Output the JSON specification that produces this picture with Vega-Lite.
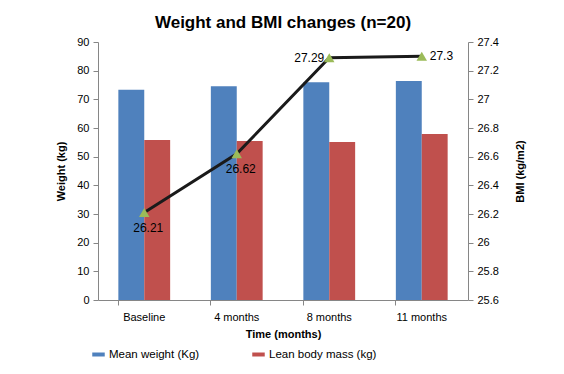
{
  "$schema": "https://vega.github.io/schema/vega-lite/v6.json",
  "width": 370,
  "height": 258,
  "autosize": "none",
  "padding": {"left": 98, "top": 42, "right": 96, "bottom": 74},
  "background": "white",
  "title": {"text": "Weight and BMI changes (n=20)", "fontSize": 17, "font": "Liberation Sans", "fontWeight": "bold", "color": "#000000", "anchor": "middle", "offset": 4},
  "config": {
    "font": "Liberation Sans",
    "view": {"stroke": null},
    "axis": {"labelFont": "Liberation Sans", "labelFontSize": 11, "labelColor": "#000000", "titleFont": "Liberation Sans", "titleFontSize": 11, "titleFontWeight": "bold", "titleColor": "#000000", "domainColor": "#868686", "tickColor": "#868686", "grid": false, "tickSize": 5}
  },
  "datasets": {
    "bars": [
      {"time": "Baseline", "series": "Mean weight (Kg)", "value": 73.3},
      {"time": "Baseline", "series": "Lean body mass (kg)", "value": 55.8},
      {"time": "4 months", "series": "Mean weight (Kg)", "value": 74.6},
      {"time": "4 months", "series": "Lean body mass (kg)", "value": 55.5},
      {"time": "8 months", "series": "Mean weight (Kg)", "value": 76.0},
      {"time": "8 months", "series": "Lean body mass (kg)", "value": 55.1},
      {"time": "11 months", "series": "Mean weight (Kg)", "value": 76.4},
      {"time": "11 months", "series": "Lean body mass (kg)", "value": 57.9}
    ],
    "bmi": [
      {"time": "Baseline", "bmi": 26.21, "label": "26.21"},
      {"time": "4 months", "bmi": 26.62, "label": "26.62"},
      {"time": "8 months", "bmi": 27.29, "label": "27.29"},
      {"time": "11 months", "bmi": 27.3, "label": "27.3"}
    ]
  },
  "resolve": {"scale": {"y": "independent"}},
  "layer": [
    {
      "data": {"name": "bars"},
      "mark": {"type": "bar"},
      "encoding": {
        "x": {"field": "time", "type": "nominal", "sort": ["Baseline", "4 months", "8 months", "11 months"],
              "scale": {"paddingInner": 0.44, "paddingOuter": 0.22},
              "axis": {"title": "Time (months)", "labelAngle": 0, "bandPosition": 0, "labelPadding": 6, "titlePadding": 6, "tickSize": 5}},
        "xOffset": {"field": "series", "type": "nominal", "sort": ["Mean weight (Kg)", "Lean body mass (kg)"]},
        "y": {"field": "value", "type": "quantitative", "scale": {"domain": [0, 90], "nice": false},
              "axis": {"title": "Weight  (kg)", "values": [0,10,20,30,40,50,60,70,80,90], "titlePadding": 10, "labelPadding": 4}},
        "color": {"field": "series", "type": "nominal", "sort": ["Mean weight (Kg)", "Lean body mass (kg)"],
                  "scale": {"range": ["#4F81BD", "#C0504D"]},
                  "legend": {"title": null, "orient": "none", "direction": "horizontal", "legendX": -6, "legendY": 306,
                             "symbolType": "M-1,-0.32H1V0.32H-1Z", "symbolSize": 156, "symbolStrokeWidth": 0,
                             "labelFontSize": 11.5, "labelFont": "Liberation Sans", "labelColor": "#000000", "labelOffset": 4, "columnPadding": 52}}
      }
    },
    {
      "data": {"name": "bmi"},
      "encoding": {
        "x": {"field": "time", "type": "nominal", "sort": ["Baseline", "4 months", "8 months", "11 months"]},
        "y": {"field": "bmi", "type": "quantitative", "scale": {"domain": [25.6, 27.4], "nice": false, "zero": false},
              "axis": {"orient": "right", "title": "BMI (kg/m2)", "titleAngle": 270, "titleBaseline": "top", "format": "~f", "values": [25.6,25.8,26,26.2,26.4,26.6,26.8,27,27.2,27.4], "titlePadding": 16, "labelPadding": 4}}
      },
      "layer": [
        {"mark": {"type": "line", "color": "#1a1a1a", "strokeWidth": 3}},
        {"mark": {"type": "point", "shape": "triangle-up", "filled": true, "color": "#9BBB59", "size": 110, "opacity": 1}},
        {"transform": [{"filter": "datum.label == '26.21' || datum.label == '26.62'"}],
         "mark": {"type": "text", "fontSize": 12, "font": "Liberation Sans", "color": "#000000", "dy": 15, "dx": 4}, "encoding": {"text": {"field": "label"}}},
        {"transform": [{"filter": "datum.label == '27.29'"}],
         "mark": {"type": "text", "fontSize": 12, "font": "Liberation Sans", "color": "#000000", "align": "right", "dx": -5}, "encoding": {"text": {"field": "label"}}},
        {"transform": [{"filter": "datum.label == '27.3'"}],
         "mark": {"type": "text", "fontSize": 12, "font": "Liberation Sans", "color": "#000000", "align": "left", "dx": 8}, "encoding": {"text": {"field": "label"}}}
      ]
    }
  ]
}
